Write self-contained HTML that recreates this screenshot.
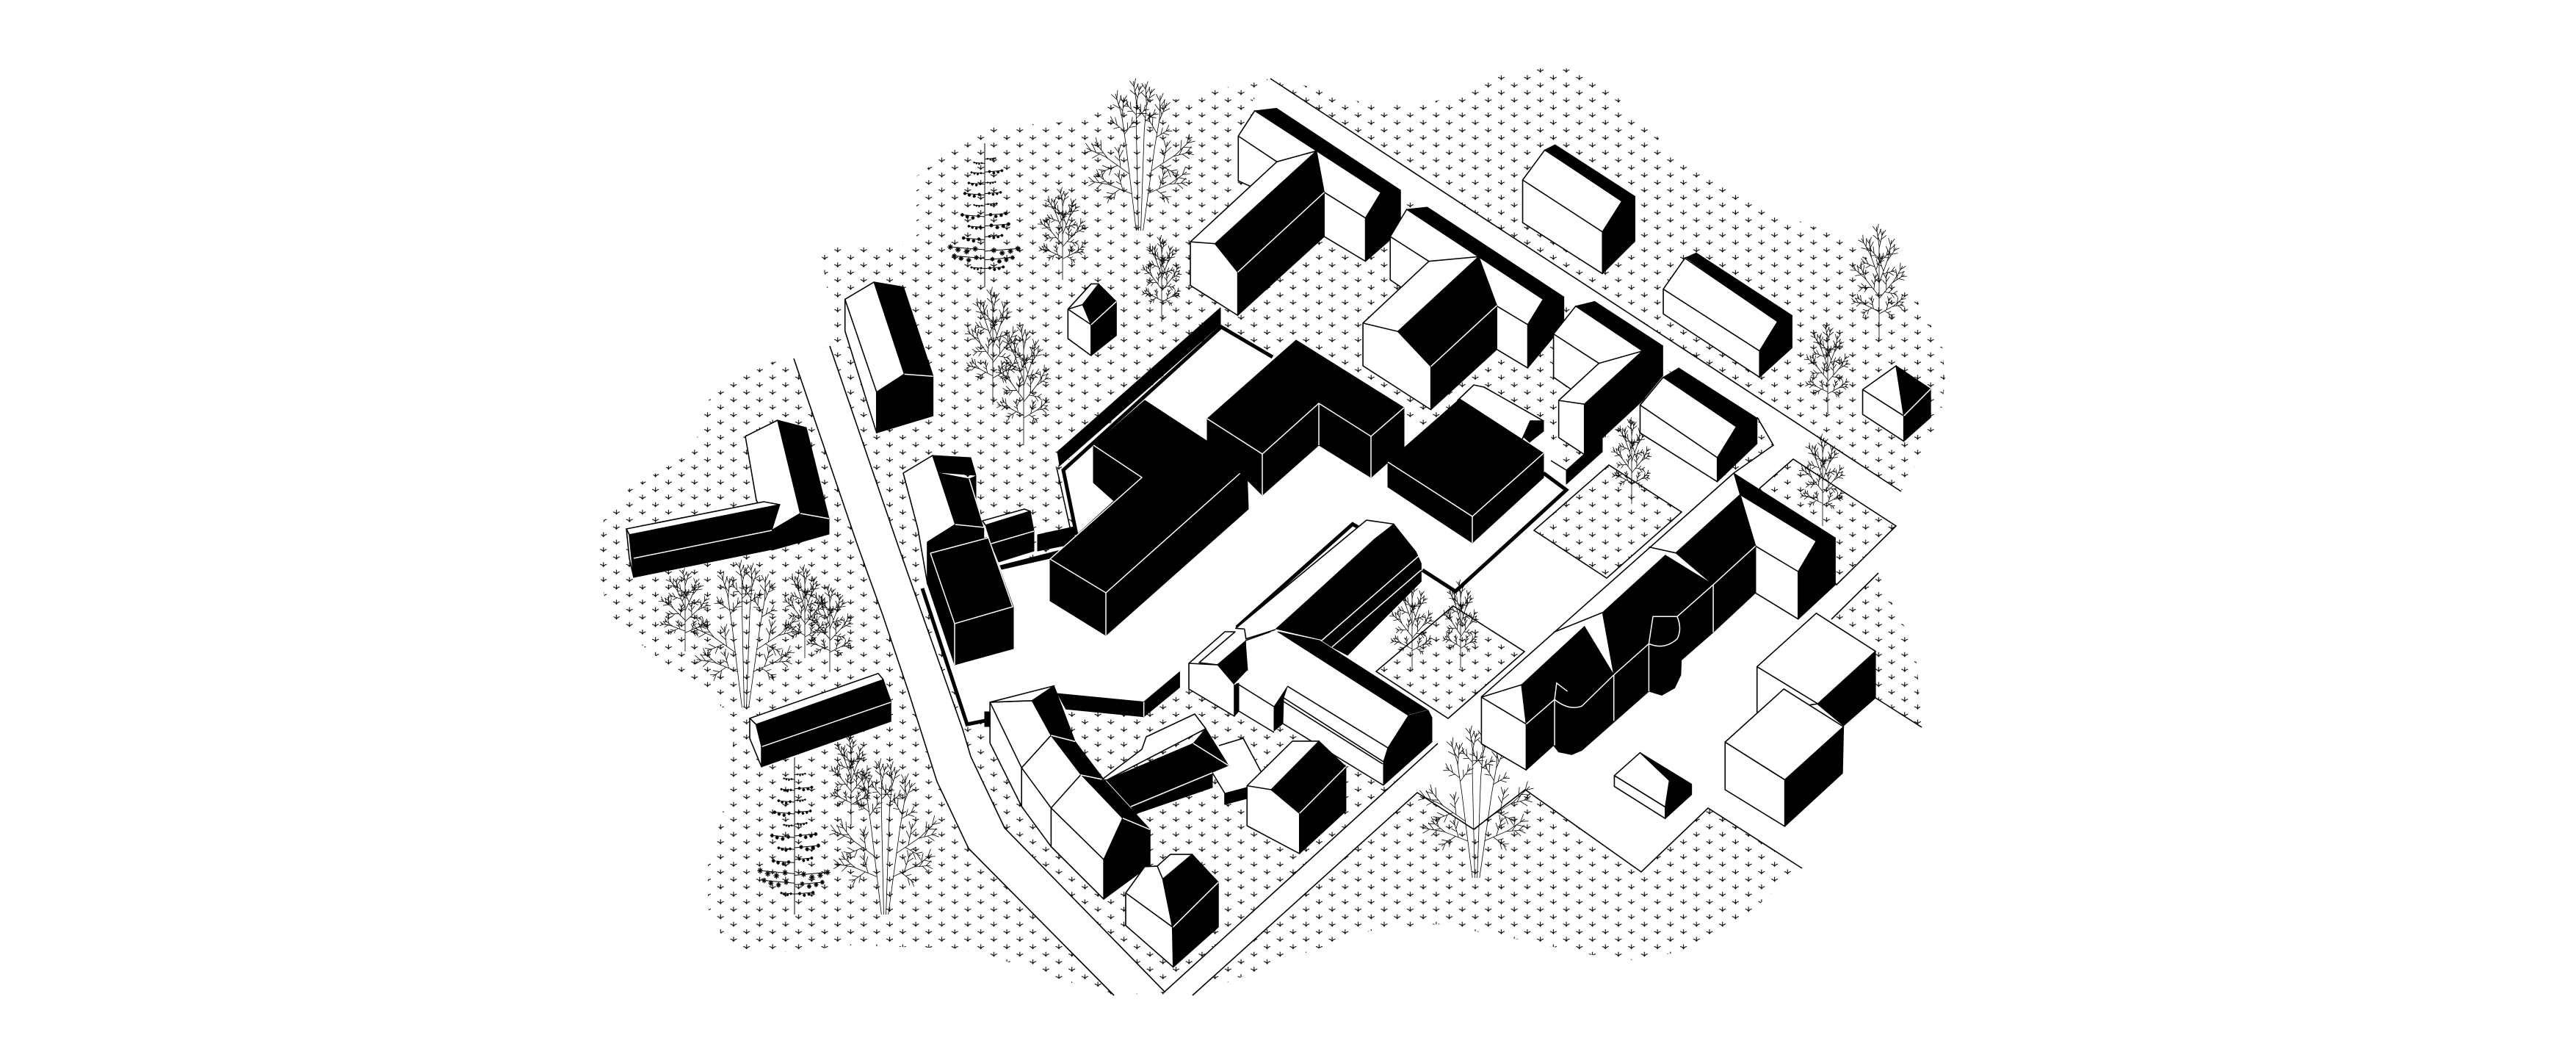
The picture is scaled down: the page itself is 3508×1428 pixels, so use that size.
<!DOCTYPE html>
<html><head><meta charset="utf-8"><title>Axonometric site plan</title>
<style>
html,body{margin:0;padding:0;background:#fff}
svg{display:block}
svg *{vector-effect:non-scaling-stroke}
.w{fill:#fff;stroke:#000;stroke-width:1.6;stroke-linejoin:round}
.k{fill:#000;stroke:#000;stroke-width:1;stroke-linejoin:round}
.l{fill:none;stroke:#fff;stroke-width:1.5}
.b{fill:none;stroke:#000;stroke-width:1.6}
.t{fill:none;stroke:#000;stroke-width:5;stroke-linejoin:miter}
.tree{fill:none;stroke:#000;stroke-width:.8}
.pine{fill:none;stroke:#000;stroke-width:1}
</style></head><body>
<svg xmlns="http://www.w3.org/2000/svg" width="3508" height="1428" viewBox="0 0 3508 1428">
<defs>
<pattern id="pat" patternUnits="userSpaceOnUse" x="1007.84" y="1099.9" width="35.44" height="20.4">
<g fill="none" stroke="#000" stroke-width="1.1">
<path d="M8.86 2V8M4.4 4.9Q7.6 5.6 8.86 8Q10.1 5.6 13.3 4.9"/>
<path d="M26.58 12.2V18.2M22.1 15.1Q25.3 15.8 26.58 18.2Q27.8 15.8 31 15.1"/>
</g>
</pattern>
<g id="b"><path d="M0 0V-18M0-6L-5-11M0-9L5-15M0-13L-4-19M0-14L3-20"/></g>
<g id="c"><path d="M0 0V-24"/>
<use href="#b" transform="translate(0 -24) rotate(-10)"/><use href="#b" transform="translate(0 -22) rotate(16) scale(.9)"/>
<use href="#b" transform="translate(0 -12) rotate(-48) scale(.85)"/><use href="#b" transform="translate(0 -9) rotate(52) scale(.8)"/>
</g>
<g id="T"><path d="M0 0V-62"/>
<use href="#c" transform="translate(0 -62)"/>
<use href="#c" transform="translate(0 -56) rotate(-24)"/><use href="#c" transform="translate(0 -52) rotate(24)"/>
<use href="#c" transform="translate(0 -40) rotate(-44) scale(.95)"/><use href="#c" transform="translate(0 -38) rotate(46) scale(.95)"/>
<use href="#c" transform="translate(0 -26) rotate(-68) scale(.75)"/><use href="#c" transform="translate(0 -24) rotate(66) scale(.75)"/>
</g>
<g id="G"><path d="M-3 0L-12-60M-1 0L-3-72M1 0L4-70M3 0L13-58"/>
<use href="#c" transform="translate(-12 -60) rotate(-10) scale(.9)"/>
<use href="#c" transform="translate(-3 -72) scale(.8)"/>
<use href="#c" transform="translate(4 -70) rotate(6) scale(.8)"/>
<use href="#c" transform="translate(13 -58) rotate(12) scale(.9)"/>
<use href="#c" transform="translate(-9 -40) rotate(-60)"/>
<use href="#c" transform="translate(-7 -26) rotate(-72) scale(.9)"/>
<use href="#c" transform="translate(10 -42) rotate(62)"/>
<use href="#c" transform="translate(7 -26) rotate(70) scale(.9)"/>
</g>
<g id="q" stroke-width="1.3"><path d="M-3 0H3M0-3V3M-2-2L2 2M-2 2L2-2"/></g>
<g id="r"><path d="M0 0L36-3"/>
<use href="#q" transform="translate(10 -1)"/><use href="#q" transform="translate(19 2)"/><use href="#q" transform="translate(28 0)"/><use href="#q" transform="translate(36 -3)"/>
</g>
<g id="P"><path d="M0 0V-200"/>
<use href="#r" transform="translate(0 -178) scale(.4)"/><use href="#r" transform="translate(0 -172) scale(-.4 .4)"/>
<use href="#r" transform="translate(0 -160) scale(.65)"/><use href="#r" transform="translate(0 -158) scale(-.5 .5)"/>
<use href="#r" transform="translate(0 -145) scale(.4)"/><use href="#r" transform="translate(0 -143) scale(-.6 .6)"/>
<use href="#r" transform="translate(0 -130) scale(.6)"/><use href="#r" transform="translate(0 -128) scale(-.75 .75)"/>
<use href="#r" transform="translate(0 -115) scale(.45)"/><use href="#r" transform="translate(0 -113) scale(-.4 .4)"/>
<use href="#r" transform="translate(0 -100) scale(.8)"/><use href="#r" transform="translate(0 -98) scale(-.85 .85)"/>
<use href="#r" transform="translate(0 -85) scale(.9)"/><use href="#r" transform="translate(0 -83) scale(-.6 .6)"/>
<use href="#r" transform="translate(0 -70) scale(.65)"/><use href="#r" transform="translate(0 -66) scale(-.8 .8)"/>
<use href="#r" transform="translate(0 -50) scale(1.25)"/><use href="#r" transform="translate(0 -52) scale(-1.3 1.3)"/>
<use href="#r" transform="translate(0 -38) scale(1.05)"/><use href="#r" transform="translate(0 -40) scale(-1.15 1.15)"/>
<use href="#r" transform="translate(0 -26) scale(.7)"/><use href="#r" transform="translate(0 -26) scale(-.5 .5)"/>
</g>
</defs>

<!-- ground hatch -->
<polygon fill="url(#pat)" points="817,737 823,703 857,665 875,655 943,615 966,543 998,520 1053,492 1081,488 1130,471 1130,417 1119,349 1144,335 1248,333 1248,240 1299,202 1351,173 1477,164 1506,135 1632,135 1655,122 1730,107 1775,116 1867,143 1937,143 2007,122 2042,103 2098,93 2133,93 2186,120 2203,133 2256,185 2291,223 2379,274 2466,307 2505,320 2610,408 2645,471 2649,518 2642,572 2589,669 2582,716 2558,780 2575,818 2593,852 2610,901 2617,986 2454,1182 2400,1227 2379,1249 2301,1294 2221,1307 2168,1300 2063,1278 1958,1258 1867,1267 1775,1298 1670,1338 1621,1356 1517,1355 1460,1338 1368,1308 1299,1291 1156,1287 1070,1296 1001,1291 981,1270 964,1237 964,1178 984,1106 998,1014 984,963 875,879 857,866 826,828 817,782"/>

<!-- white roads and plaza -->
<g fill="#fff">
<polygon points="1081,488 1167,740 1202,837 1236,938 1276,1064 1319,1155 1517,1355 1586,1350 1368,1127 1322,1030 1311,993 1222,740 1130,471"/>
<polygon points="1586,1350 1958,1012 1930,1079 1624,1355"/>
<polygon points="1730,107 2589,669 2582,716 2442,625 2415,606 2393,568 2266,501 2126,404 1909,261 1698,147"/>
<polygon points="1446,635 1663,442 1733,486 1765,463 1912,555 1912,575 1945,590 1988,543 2007,524 2102,573 2133,640 2182,596 2233,589 2339,656 2361,644 2415,606 2442,625 2396,665 2501,796 2582,716 2558,780 2494,843 2554,950 2617,990 2625,1200 2454,1182 2326,1100 2235,1187 2077,1075 2007,1129 1930,1079 1958,1012 1884,1069 1747,985 1735,997 1687,968 1681,975 1619,938 1607,936 1558,976 1451,965 1435,934 1342,981 1317,986 1256,801 1300,770 1360,769 1430,755 1466,728"/>
</g>
<!-- courtyards with hatch -->
<polygon fill="url(#pat)" stroke="#000" stroke-width="1.6" points="2191,633 2089,722 2188,787 2290,697"/>
<polygon fill="url(#pat)" stroke="#000" stroke-width="1.6" points="1979,825 1874,914 1972,978 2076,887"/>

<!-- road lines -->
<g>
<polyline class="b" points="1081,488 1167,740 1202,837 1236,938 1276,1064 1319,1155 1517,1355"/>
<polyline class="b" points="1130,471 1222,740 1311,993 1322,1030 1368,1127 1586,1350 1958,1012"/>
<polyline class="b" points="1624,1355 1930,1079 2007,1129 2077,1075 2235,1187 2326,1100 2454,1182"/>
<line class="b" x1="1730" y1="107" x2="2589" y2="669"/>
<polyline class="b" points="2396,665 2442,625 2582,716 2501,796 2396,665"/>
<polyline class="b" points="2393,568 2415,606 2361,644 2017,949"/>
<polyline class="b" points="2558,780 2494,843"/>
<polyline class="b" points="2554,950 2617,990"/>
</g>

<!-- trees -->
<g class="tree">
<use href="#T" transform="translate(1447 381) scale(1.04 1.19)"/>
<use href="#T" transform="translate(1582 438) scale(.87 1.11)"/>
<use href="#T" transform="translate(1352 551) scale(1.16 1.51)"/>
<use href="#T" transform="translate(1394 606) scale(1.18 1.55)"/>
<use href="#T" transform="translate(2559 463) scale(1.21 1.49)"/>
<use href="#T" transform="translate(2489 564) scale(.98 1.17)"/>
<use href="#T" transform="translate(2482 716) scale(.98 1.18)"/>
<use href="#T" transform="translate(2222 686) scale(.86 1.11)"/>
<use href="#T" transform="translate(1923 914) scale(.94 1.18)"/>
<use href="#T" transform="translate(1989 910) scale(.78 1.14)"/>
<use href="#T" transform="translate(933 887) scale(1.11 1.07)"/>
<use href="#T" transform="translate(1096 896) scale(.93 1.2)"/>
<use href="#T" transform="translate(1130 915) scale(1.02 1.13)"/>
<use href="#T" transform="translate(1159 1123) scale(.92 1.15)"/>
<use href="#G" transform="translate(1552 314) scale(1.55 1.93)"/>
<use href="#G" transform="translate(2010 1195) scale(1.61 1.93)"/>
<use href="#G" transform="translate(1015 963) scale(1.52 1.87)"/>
<use href="#G" transform="translate(1205 1245) scale(1.55 1.98)"/>
</g>
<g class="pine">
<use href="#P" transform="translate(1341 391) scale(1 .98)"/>
<use href="#P" transform="translate(1082 1245) scale(1 1.07)"/>
</g>

<!-- real-coordinate buildings -->
<g>
<!-- L house -->
<polygon class="w" points="1015,594 1059,572 1090,699 1051,722 1030,681"/>
<polygon class="k" points="1059,572 1098,582 1129,706 1090,699"/>
<polygon class="k" points="1090,699 1129,706 1129,727 1051,749 1051,722"/>
<line class="l" x1="1090" y1="699" x2="1129" y2="706"/>
<!-- long west house -->
<polygon class="w" points="853,720 1040,683 1062,687 857,728"/>
<polygon class="k" points="857,728 1062,687 1051,722 1051,748 863,786"/>
<polygon class="w" points="853,720 857,728 863,786 857,760"/>
<line class="l" x1="863" y1="760" x2="1051" y2="722"/>
<!-- cluster west of main block -->
<polygon class="k" points="1270,620 1322,623 1329,647 1278,643"/>
<polygon class="w" points="1230,644 1270,620 1278,644 1301,714 1263,738 1263,795 1250,720"/>
<polygon class="k" points="1278,644 1320,652 1329,648 1329,680 1340,717 1301,714"/>
<line class="l" x1="1320" y1="652" x2="1340" y2="717"/>
<polygon class="w" points="1338,709 1395,693 1403,696 1342,715"/>
<polygon class="k" points="1342,715 1403,696 1408,723 1408,750 1360,765 1350,740"/>
<line class="l" x1="1350" y1="740" x2="1408" y2="723"/>
<polygon class="k" points="1413,728 1463,717 1463,740 1413,750"/>
<polygon class="k" points="1362,770 1440,750 1450,748 1430,760 1364,775"/>
<polygon class="k" points="1263,738 1301,714 1341,718 1341,732 1346,732 1380,826 1380,883 1300,905 1263,795"/>
<polyline class="l" points="1301,714 1341,718 1341,732"/>
<polyline class="l" points="1267,753 1346,732 1379,826 1300,849 1267,753"/>
<line class="l" x1="1300" y1="849" x2="1300" y2="905"/>
<!-- site walls -->
<polyline class="t" points="1256,801 1317,986 1342,981"/>
<polygon class="k" points="1341,969 1347,969 1347,989 1341,989"/>
<polyline class="t" points="1466,728 1448,640 1663,445 1733,486"/>
<line class="b" x1="1439" y1="637" x2="1458" y2="722"/>
<polygon class="k" points="1440,615 1662,419 1662,442 1443,634"/>
<polyline class="t" points="1937,776 1982,805 2133,667 2102,644"/>
<!-- main block A -->
<polygon class="k" points="1559,545 1698,636 1700,693 1506,865 1430,818 1430,761 1517,682 1489,657 1489,606"/>
<polyline class="l" points="1489,606 1555,650 1430,761 1506,807 1698,636"/>
<line class="l" x1="1506" y1="807" x2="1506" y2="865"/>
<!-- block B -->
<polygon class="k" points="1644,570 1765,463 1912,555 1912,610 1867,650 1796,606 1719,674 1700,655 1644,600"/>
<polyline class="l" points="1644,570 1719,618 1796,549 1867,594 1912,555"/>
<line class="l" x1="1719" y1="618" x2="1719" y2="674"/>
<line class="l" x1="1796" y1="549" x2="1796" y2="606"/>
<line class="l" x1="1867" y1="594" x2="1867" y2="650"/>
<!-- small house behind C -->
<polygon class="w" points="1985,545 2007,524 2021,527 2102,573 2084,573 2072,600"/>
<polygon class="k" points="2084,573 2102,573 2102,587 2083,602 2075,595"/>
<!-- block C -->
<polygon class="k" points="1890,629 1988,543 2102,617 2102,650 2005,739 1890,663"/>
<polyline class="l" points="1890,629 2005,703 2102,617"/>
<line class="l" x1="2005" y1="703" x2="2005" y2="739"/>
<polygon class="k" points="2133,640 2182,596 2182,615 2133,659"/>
<line class="b" x1="2112" y1="627" x2="2133" y2="640"/>
</g>

<!-- zoom-1 space -->
<g transform="translate(800 80) scale(.57398 .42092)">
<polygon class="w" points="611,778 680,722 752,1020 686,1078 686,1210 611,880"/>
<line class="b" x1="611" y1="778" x2="686" y2="1078"/>
<polygon class="k" points="680,722 750,738 820,1025 752,1020"/>
<polygon class="k" points="752,1020 820,1027 820,1155 686,1210 686,1078"/>
<line class="l" x1="752" y1="1020" x2="820" y2="1027"/>
<polygon class="w" points="1140,810 1195,728 1213,728 1175,795 1195,860 1195,960 1140,905"/>
<line class="b" x1="1140" y1="810" x2="1175" y2="795"/>
<line class="b" x1="1140" y1="810" x2="1195" y2="860"/>
<polygon class="k" points="1213,728 1255,785 1195,860 1175,795"/>
<polygon class="k" points="1195,860 1255,785 1255,895 1195,960"/>
<line class="l" x1="1195" y1="860" x2="1255" y2="785"/>
</g>

<!-- zoom-2 space -->
<g transform="translate(1600 80) scale(.70153 .42092)">
<!-- H1 -->
<polygon class="w" points="155,168 123,250 123,395 150,415 290,575 370,655 370,515 400,433"/>
<line class="b" x1="123" y1="250" x2="198" y2="333"/>
<line class="b" x1="290" y1="432" x2="370" y2="515"/>
<polygon class="k" points="157,168 197,160 438,425 400,432"/>
<polygon class="k" points="400,432 438,425 438,520 415,590 370,655 370,515"/>
<polygon class="w" points="30,592 198,333 275,298 78,598 122,690 122,830 30,733"/>
<line class="b" x1="30" y1="592" x2="78" y2="598"/>
<polygon class="k" points="275,298 290,432 122,690 78,598"/>
<polygon class="k" points="290,432 290,575 122,830 122,690"/>
<line class="l" x1="290" y1="432" x2="122" y2="690"/>
<!-- H2 -->
<polygon class="w" points="450,487 418,575 418,715 440,740 625,940 685,1000 685,860 715,778"/>
<line class="b" x1="418" y1="575" x2="493" y2="655"/>
<line class="b" x1="625" y1="800" x2="685" y2="860"/>
<polygon class="k" points="450,487 490,480 755,770 715,778"/>
<polygon class="k" points="715,778 755,770 755,860 685,1000 685,860"/>
<polygon class="w" points="365,855 493,655 590,640 433,882 497,995 497,1135 365,993"/>
<line class="b" x1="365" y1="855" x2="433" y2="882"/>
<polygon class="k" points="590,640 625,798 497,995 433,882"/>
<polygon class="k" points="625,798 625,940 497,1135 497,995"/>
<line class="l" x1="625" y1="798" x2="497" y2="995"/>
<!-- H3 -->
<polygon class="w" points="778,800 735,890 735,1030 770,1070 908,945"/>
<line class="b" x1="735" y1="890" x2="823" y2="985"/>
<polygon class="k" points="778,800 815,785 947,928 908,945"/>
<polygon class="w" points="745,1105 823,985 908,945 795,1117 795,1280 745,1225"/>
<line class="b" x1="745" y1="1105" x2="795" y2="1117"/>
<polygon class="k" points="908,945 947,928 947,1025 905,1110 795,1280 795,1117"/>
<!-- H4 -->
<polygon class="w" points="675,392 718,295 868,460 830,560 830,695 675,530"/>
<line class="b" x1="675" y1="392" x2="830" y2="560"/>
<polygon class="k" points="718,295 738,278 893,445 868,462"/>
<polygon class="k" points="868,462 893,445 893,590 830,695 830,560"/>
<!-- H5 -->
<polygon class="w" points="948,745 990,645 1170,850 1135,945 1135,1030 948,825"/>
<line class="b" x1="948" y1="745" x2="1135" y2="945"/>
<polygon class="k" points="992,643 1012,628 1198,830 1170,850"/>
<polygon class="k" points="1170,850 1198,830 1198,935 1135,1030 1135,945"/>
<!-- H6 -->
<polygon class="w" points="1335,1070 1400,993 1415,1155 1415,1237 1335,1150"/>
<line class="b" x1="1335" y1="1070" x2="1415" y2="1155"/>
<polygon class="k" points="1400,993 1467,1068 1415,1155"/>
<polygon class="k" points="1415,1155 1467,1068 1467,1160 1415,1237"/>
<line class="l" x1="1415" y1="1155" x2="1467" y2="1068"/>
<!-- H7 -->
<polygon class="w" points="903,1120 948,1030 1090,1190 1053,1290 1053,1368 903,1210"/>
<line class="b" x1="903" y1="1120" x2="1053" y2="1290"/>
<polygon class="k" points="948,1030 978,1000 1130,1162 1090,1190"/>
<polygon class="k" points="1090,1190 1130,1162 1130,1245 1053,1368 1053,1290"/>
</g>

<!-- zoom-3 space -->
<g transform="translate(800 740) scale(.57398 .42092)">
<!-- long house -->
<polygon class="w" points="385,565 690,420 702,440 400,585"/>
<polygon class="k" points="400,585 702,440 720,510 720,575 413,722 413,655"/>
<line class="l" x1="413" y1="657" x2="720" y2="513"/>
<polygon class="w" points="385,565 400,585 413,655 413,722 385,630"/>
<!-- connectors -->
<polygon class="k" points="1115,485 1320,512 1320,560 1135,535"/>
<polygon class="k" points="1320,512 1405,415 1405,465 1320,560"/>
<line class="l" x1="1320" y1="512" x2="1320" y2="560"/>
<!-- row house -->
<polygon class="w" points="955,513 1055,508 1100,620 1170,745 1270,888 1225,1022 1225,1150 1100,980 1030,850 955,645"/>
<polygon class="w" points="955,513 1107,460 1055,508"/>
<polygon class="k" points="1107,460 1157,640 1225,762 1335,925 1270,888 1170,745 1100,620 1055,508"/>
<polygon class="k" points="1270,888 1335,925 1335,1040 1225,1150 1225,1022"/>
<polyline class="b" points="955,513 1030,725 1030,850"/>
<polyline class="b" points="1030,725 1100,620"/>
<polyline class="b" points="1030,725 1100,855 1100,980"/>
<polyline class="b" points="1100,855 1170,748"/>
<polyline class="b" points="1100,855 1225,1022"/>
<line class="l" x1="1100" y1="620" x2="1157" y2="640"/>
<line class="l" x1="1170" y1="748" x2="1230" y2="765"/>
<line class="l" x1="1270" y1="888" x2="1335" y2="925"/>
<!-- south house -->
<polygon class="w" points="1322,1045 1352,1043 1383,1005 1435,1005 1365,1085"/>
<polygon class="k" points="1435,1005 1497,1095 1388,1240 1365,1085"/>
<polygon class="k" points="1388,1242 1497,1095 1497,1240 1390,1370"/>
<line class="l" x1="1388" y1="1242" x2="1497" y2="1095"/>
<polygon class="w" points="1277,1130 1322,1045 1352,1043 1365,1085 1388,1240 1390,1370 1277,1235"/>
<line class="b" x1="1277" y1="1130" x2="1388" y2="1240"/>
</g>

<!-- real-coordinate: south block, long white building, hall -->
<g>
<!-- south hipped bar -->
<polygon fill="#fff" points="1660,1015 1693,1005 1717,1050 1698,1070 1698,1073 1668,1080 1651,1052"/>
<polyline class="b" points="1660,1015 1693,1005 1717,1050"/>
<polyline class="b" points="1651,1052 1668,1080 1668,1095"/>
<polygon class="k" points="1668,1080 1698,1072 1698,1087 1668,1095"/>
<polygon class="w" points="1561,1003 1627,972 1642,992 1507,1062 1501,1061 1555,1020"/>
<polygon class="k" points="1507,1062 1625,1012 1673,1042 1540,1098"/>
<polygon class="k" points="1625,1012 1642,992 1673,1042"/>
<polygon class="k" points="1540,1098 1651,1052 1651,1072 1546,1108"/>
<line class="l" x1="1625" y1="1012" x2="1673" y2="1042"/>
<line class="l" x1="1540" y1="1098" x2="1651" y2="1052"/>
</g>

<g transform="translate(1600 700) scale(.70153 .44643)">
<!-- hall -->
<polyline class="t" points="120,345 345,30 358,42"/>
<polygon class="w" points="118,348 372,18 425,30 195,352 138,380 135,350"/>
<polygon class="k" points="195,352 388,75 425,30 468,115 478,150 478,205 335,430 305,405 285,385"/>
<line class="l" x1="285" y1="385" x2="475" y2="125"/>
<line class="l" x1="305" y1="405" x2="478" y2="170"/>
<line class="l" x1="195" y1="352" x2="285" y2="385"/>
</g>

<g>
<!-- long white building -->
<polygon fill="#fff" points="1687,932 1696,872 1730,860 1740,860 1918,974 1890,1018 1884,1069 1747,985 1735,997 1687,968"/>
<polyline class="b" points="1696,872 1730,860"/>
<polygon class="k" points="1740,860 1797,872 1945,967 1918,974"/>
<line class="l" x1="1918" y1="974" x2="1945" y2="967"/>
<polygon class="k" points="1918,974 1945,967 1950,977 1950,1010 1884,1069 1884,1037 1890,1018"/>
<line class="b" x1="1753" y1="934" x2="1890" y2="1018"/>
<line class="b" x1="1748" y1="950" x2="1884" y2="1037"/>
<line class="b" x1="1748" y1="955" x2="1883" y2="1040"/>
<line class="b" x1="1747" y1="985" x2="1884" y2="1069"/>
<polygon class="k" points="1753,935 1735,962 1735,995 1747,985 1748,950"/>
<polyline class="b" points="1687,932 1735,962"/>
<polyline class="b" points="1687,968 1735,997"/>
<!-- west gable house -->
<polygon class="w" points="1619,903 1668,860 1682,860 1633,902 1658,905 1696,873 1696,900 1681,932 1681,975 1619,938"/>
<line class="b" x1="1619" y1="903" x2="1658" y2="905"/>
<polygon class="k" points="1658,905 1696,873 1699,913 1681,932"/>
<polygon class="k" points="1681,932 1687,930 1687,968 1681,975"/>
<line class="l" x1="1681" y1="932" x2="1699" y2="913"/>
</g>

<g transform="translate(1600 700) scale(.70153 .44643)">
<polygon class="w" points="140,828 228,692 280,692 187,840 242,912 242,1035 140,950"/>
<line class="b" x1="140" y1="828" x2="187" y2="840"/>
<polygon class="k" points="280,692 332,770 242,912 187,840"/>
<polygon class="k" points="242,912 332,770 332,905 242,1035"/>
<line class="l" x1="242" y1="912" x2="332" y2="770"/>
<!-- east long building -->
<polygon class="k" points="1085,-125 1282,72 1245,82 1097,-60"/>
<polygon class="w" points="1097,-60 1245,82 1210,175 1210,320 1127,240 1127,97"/>
<line class="b" x1="1127" y1="97" x2="1210" y2="175"/>
<polygon class="k" points="1245,82 1282,72 1282,215 1210,320 1210,175"/>
<polygon class="k" points="972,118 1097,-60 1127,97 1127,240 1045,360 983,445 982,490 970,530 945,552 920,540 790,720 770,733 745,725 735,705 682,780 682,640 673,520 795,342 852,490 830,300 952,125 1045,215"/>
<polygon class="w" points="595,558 673,520 682,640 682,780 595,700"/>
<line class="b" x1="595" y1="558" x2="682" y2="640"/>
<line class="b" x1="735" y1="360" x2="830" y2="300"/>
<line class="b" x1="920" y1="100" x2="972" y2="118"/>
<polyline class="l" points="682,640 737,565"/>
<path class="l" d="M737 565Q765 600 790 585L852 490L920 395Q950 415 975 380Q985 350 975 312L928 312L920 395V540"/>
<line class="l" x1="737" y1="565" x2="737" y2="705"/>
<line class="l" x1="852" y1="490" x2="852" y2="630"/>
<polyline class="l" points="975,312 1045,215 1127,97"/>
<line class="l" x1="1045" y1="215" x2="1045" y2="360"/>
<polyline class="l" points="737,565 741,515 762,540"/>
<!-- lower-right boxes -->
<polygon class="w" points="1130,465 1245,302 1360,418 1248,578 1130,605"/>
<line class="b" x1="1130" y1="465" x2="1248" y2="578"/>
<polygon class="k" points="1360,418 1360,560 1298,645 1248,580"/>
<polygon class="w" points="1068,695 1182,533 1298,648 1184,810"/>
<polygon class="k" points="1184,810 1298,650 1296,790 1184,952"/>
<polygon class="w" points="1068,695 1184,810 1184,952 1068,840"/>
<!-- small house -->
<polygon class="w" points="853,797 903,727 960,812 952,893"/>
<polygon class="k" points="903,727 1003,823 962,812"/>
<polygon class="k" points="962,812 1003,825 952,893"/>
<polygon class="k" points="952,893 1003,825 1003,855 952,928"/>
<polygon class="w" points="853,797 952,893 952,928 853,830"/>
</g>
</svg>
</body></html>
